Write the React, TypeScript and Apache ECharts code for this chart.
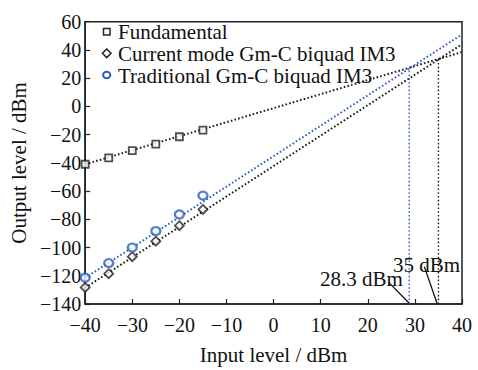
import React, { useEffect, useRef } from "react";
import * as echarts from "echarts";

const inputLevels = [-40, -35, -30, -25, -20, -15];
const fundamental = [-41, -36.5, -31.3, -26.7, -21.5, -16.8];
const currentModeIM3 = [-128.3, -118.5, -106.5, -95.5, -84.5, -73];
const traditionalIM3 = [-121.4, -111, -100, -88.3, -76.6, -63.2];

const fitX = [-40, 40];
const fundamentalFit = [-41, 38.5];
const currentFit = [-128.5, 44];
const traditionalFit = [-121.5, 51];

const iip3Traditional = 28.8;
const iip3TraditionalOut = 27;
const iip3Current = 35;
const iip3CurrentOut = 33.5;

const leader283 = [[24.4, -124.5], [28.8, -139.5]];
const leader35 = [[32.0, -113.5], [34.7, -139.5]];

const legendNames = ["Fundamental", "Current mode Gm-C biquad IM3", "Traditional Gm-C biquad IM3"];
const annotations = ["28.3 dBm", "35 dBm"];

const FONT = "Liberation Serif, Times New Roman, Times, serif";
const BLUE = "#2d5fc2";
const DARK = "#1a1a1a";

const pairs = (xs: number[], ys: number[]) => xs.map((x, i) => [x, ys[i]]);
const minus = (v: number) => String(v).replace("-", "\u2212");

export default function App() {
  const ref = useRef<HTMLDivElement>(null);
  useEffect(() => {
    const chart = echarts.init(ref.current!, null, { renderer: "svg" });
    const dotted = (color: string, width = 2) => ({ color, width, type: [1.6, 2.2] as any });
    const txt = (text: string, x: number, y: number) => ({
      type: "text", x, y,
      style: { text, fontFamily: FONT, fontSize: 21, lineHeight: 19, fill: "#111", textVerticalAlign: "middle" },
    });
    chart.setOption({
      animation: false,
      backgroundColor: "#fff",
      textStyle: { fontFamily: FONT },
      grid: { left: 82.7, right: 16, top: 21.7, bottom: 58.3, show: true, borderColor: "#222", borderWidth: 1.5 },
      xAxis: {
        type: "value", min: -40, max: 40, interval: 10,
        name: "Input level / dBm", nameLocation: "middle", nameGap: 40,
        nameTextStyle: { fontFamily: FONT, fontSize: 21, color: "#111" },
        axisLine: { show: true, onZero: false, lineStyle: { color: "#222", width: 1.5 } },
        axisTick: { show: true, inside: true, length: 5, lineStyle: { color: "#222", width: 1.2 } },
        axisLabel: { fontFamily: FONT, fontSize: 20, color: "#111", margin: 11, formatter: minus },
        splitLine: { show: false },
      },
      yAxis: {
        type: "value", min: -140, max: 60, interval: 20,
        name: "Output level / dBm", nameLocation: "middle", nameGap: 56,
        nameTextStyle: { fontFamily: FONT, fontSize: 21, color: "#111" },
        axisLine: { show: true, onZero: false, lineStyle: { color: "#222", width: 1.5 } },
        axisTick: { show: true, inside: true, length: 5, lineStyle: { color: "#222", width: 1.2 } },
        axisLabel: { fontFamily: FONT, fontSize: 20, color: "#111", margin: 4, formatter: minus },
        splitLine: { show: false },
      },
      series: [
        { type: "line", data: pairs(fitX, fundamentalFit), symbol: "none", lineStyle: dotted(DARK), z: 2 },
        { type: "line", data: pairs(fitX, currentFit), symbol: "none", lineStyle: dotted(DARK), z: 2 },
        { type: "line", data: pairs(fitX, traditionalFit), symbol: "none", lineStyle: dotted(BLUE), z: 2 },
        { type: "line", data: [[iip3Traditional, -140], [iip3Traditional, iip3TraditionalOut]], symbol: "none", lineStyle: dotted(BLUE, 1.4), z: 2 },
        { type: "line", data: [[iip3Current, -140], [iip3Current, iip3CurrentOut]], symbol: "none", lineStyle: dotted(DARK, 1.4), z: 2 },
        { type: "line", data: leader283, symbol: "none", lineStyle: { color: "#111", width: 1.3 }, z: 2 },
        { type: "line", data: leader35, symbol: "none", lineStyle: { color: "#111", width: 1.3 }, z: 2 },
        { type: "scatter", name: legendNames[0], data: pairs(inputLevels, fundamental), symbol: "rect", symbolSize: 7,
          itemStyle: { color: "#fff", borderColor: "#222", borderWidth: 1.8 }, z: 5 },
        { type: "scatter", name: legendNames[1], data: pairs(inputLevels, currentModeIM3), symbol: "diamond", symbolSize: 9,
          itemStyle: { color: "#fff", borderColor: "#222", borderWidth: 1.8 }, z: 5 },
        { type: "scatter", name: legendNames[2], data: pairs(inputLevels, traditionalIM3), symbol: "circle", symbolSize: [9, 8],
          itemStyle: { color: "#fff", borderColor: BLUE, borderWidth: 2.3 }, z: 5 },
      ],
      graphic: [
        { type: "rect", shape: { x: 103.5, y: 28.5, width: 6.5, height: 6.5 }, style: { fill: "#fff", stroke: "#222", lineWidth: 1.5 } },
        { type: "polygon", shape: { points: [[106.7, 49], [111, 53.3], [106.7, 57.6], [102.4, 53.3]] }, style: { fill: "#fff", stroke: "#222", lineWidth: 1.5 } },
        { type: "ellipse", shape: { cx: 106.7, cy: 75, rx: 3.6, ry: 3.2 }, style: { fill: "#fff", stroke: BLUE, lineWidth: 2 } },
        txt(legendNames[0], 118, 32),
        txt(legendNames[1], 118, 53.5),
        txt(legendNames[2], 118, 75.5),
        txt(annotations[0], 320, 279),
        txt(annotations[1], 393, 265),
      ],
    });
    return () => chart.dispose();
  }, []);
  return <div ref={ref} style={{ width: 478, height: 370, position: "absolute", left: 0, top: 0 }} />;
}
